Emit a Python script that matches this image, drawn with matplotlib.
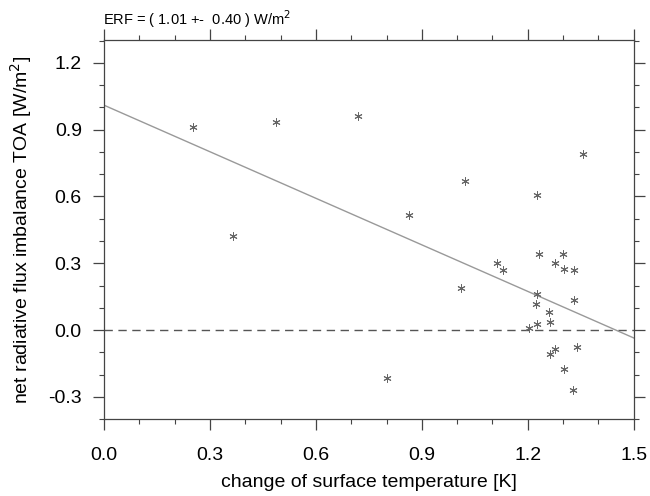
import numpy as np
import matplotlib
matplotlib.use("Agg")
import matplotlib.pyplot as plt

plt.rcParams['font.family'] = ['Liberation Sans', 'DejaVu Sans']

# Data
dT = [0.253, 0.366, 0.486, 0.720, 0.800, 0.864, 1.012, 1.022, 1.113, 1.130,
      1.204, 1.222, 1.227, 1.227, 1.227, 1.231, 1.260, 1.262, 1.262, 1.277,
      1.278, 1.300, 1.302, 1.302, 1.328, 1.330, 1.330, 1.338, 1.357]
dN = [0.913, 0.422, 0.935, 0.961, -0.217, 0.516, 0.187, 0.669, 0.302, 0.269,
      0.010, 0.115, 0.162, 0.606, 0.027, 0.341, 0.080, 0.037, -0.108, 0.302,
      -0.085, 0.341, 0.275, -0.175, -0.269, 0.269, 0.135, -0.075, 0.790]

erf = 1.01
erf_err = 0.40
slope = -0.697

xticks = [0.0, 0.3, 0.6, 0.9, 1.2, 1.5]
yticks = [-0.3, 0.0, 0.3, 0.6, 0.9, 1.2]

fig = plt.figure(figsize=(6.5, 4.96), dpi=100)
ax = fig.add_axes([0.16, 0.155, 0.815, 0.764])

ax.axhline(0.0, color='#555555', lw=1.0, ls=(0, (6, 4)), zorder=1)
xl = np.array([0.0, 1.5])
ax.plot(xl, erf + slope * xl, color='#999999', lw=1.0, zorder=2)
ax.scatter(dT, dN, marker=(6, 2, 0), s=28, color='#666666', linewidths=0.7, zorder=3)

ax.set_xlim(0.0, 1.5)
ax.set_ylim(-0.4, 1.302)
ax.set_xticks(xticks)
ax.set_xticklabels([f"{v:.1f}" for v in xticks])
ax.set_yticks(yticks)
ax.set_yticklabels([f"{v:.1f}" for v in yticks])
ax.set_xticks(np.arange(0.0, 1.51, 0.1), minor=True)
ax.set_yticks(np.arange(-0.4, 1.31, 0.1), minor=True)

ax.tick_params(which='major', direction='out', length=8, width=0.9, color='#444444',
               labelsize=14, top=True, right=True)
ax.tick_params(axis='x', which='major', pad=12)
ax.tick_params(axis='y', which='major', pad=8)
ax.tick_params(which='minor', direction='out', length=3.5, width=0.8, color='#444444',
               top=True, right=True)
for s in ax.spines.values():
    s.set_color('#444444')
    s.set_linewidth(0.9)

ax.set_xlabel('change of surface temperature [K]', fontsize=14, labelpad=7)
ax.set_ylabel('net radiative flux imbalance TOA [W/m$^2$]', fontsize=14, labelpad=10)

fig.text(0.158, 0.95, f'ERF = ( {erf:.2f} +-  {erf_err:.2f} ) W/m$^2$', fontsize=10.5,
         ha='left', va='baseline')

fig.savefig('out.png', dpi=100)
